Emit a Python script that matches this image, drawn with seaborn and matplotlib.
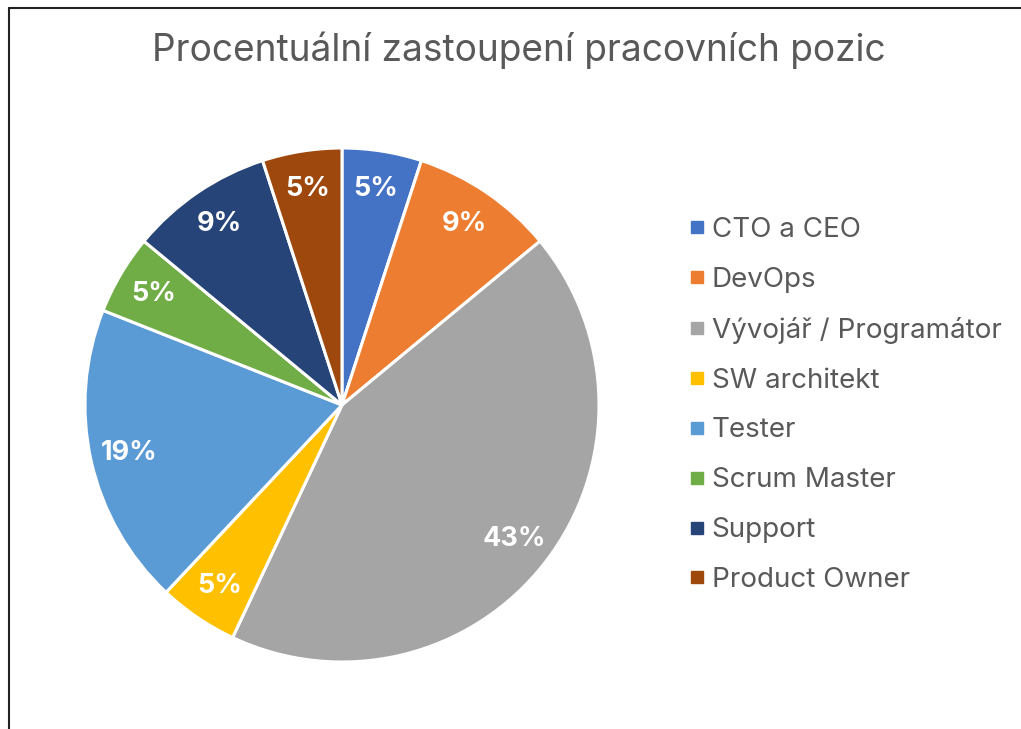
import matplotlib
matplotlib.use("Agg")
import matplotlib.pyplot as plt
import seaborn as sns
from matplotlib.lines import Line2D

# Data
positions = ['CTO a CEO', 'DevOps', 'Vývojář / Programátor', 'SW architekt',
             'Tester', 'Scrum Master', 'Support', 'Product Owner']
shares = [5, 9, 43, 5, 19, 5, 9, 5]
colors = ['#4472C4', '#ED7D31', '#A5A5A5', '#FFC000',
          '#5B9BD5', '#70AD47', '#264478', '#9E480E']

sns.set_theme(style='white')
plt.rcParams['font.family'] = ['Inter', 'DejaVu Sans']

W, H = 1021, 729
fig = plt.figure(figsize=(W / 100, H / 100), dpi=100)

# pie axes: centre (342, 405) px, radius 257 px
cx, cy, r = 342, 405, 257
ax = fig.add_axes([(cx - r) / W, (H - cy - r) / H, 2 * r / W, 2 * r / H])
wedges, texts, autotexts = ax.pie(
    shares, colors=colors, startangle=90, counterclock=False,
    autopct=lambda p: f'{p:.0f}%', pctdistance=0.85,
    wedgeprops=dict(edgecolor='white', linewidth=2.2),
    textprops=dict(color='white', fontsize=19.5, fontweight='bold'))
ax.set_xlim(-1, 1)
ax.set_ylim(-1, 1)
ax.set_aspect('equal')

fig.text(519 / W, 1 - 50 / H, 'Procentuální zastoupení pracovních pozic',
         ha='center', va='center', fontsize=26.7, color='#595959')

handles = [Line2D([], [], marker='s', linestyle='none', markersize=8,
                  markerfacecolor=c, markeredgecolor=c) for c in colors]
leg = fig.legend(handles, positions, loc='center left',
                 bbox_to_anchor=(680 / W, 1 - 405 / H), frameon=False,
                 fontsize=20, labelspacing=0.86, handletextpad=0.34,
                 handlelength=0.4, borderaxespad=0)
for t in leg.get_texts():
    t.set_color('#595959')

# chart frame (only top and left edges visible in the crop)
fig.add_artist(Line2D([9 / W, 9 / W], [0, 1 - 8 / H], color='#222222', lw=1.5))
fig.add_artist(Line2D([9 / W, 1], [1 - 8 / H, 1 - 8 / H], color='#222222', lw=1.5))

fig.savefig('out.png', dpi=100)
